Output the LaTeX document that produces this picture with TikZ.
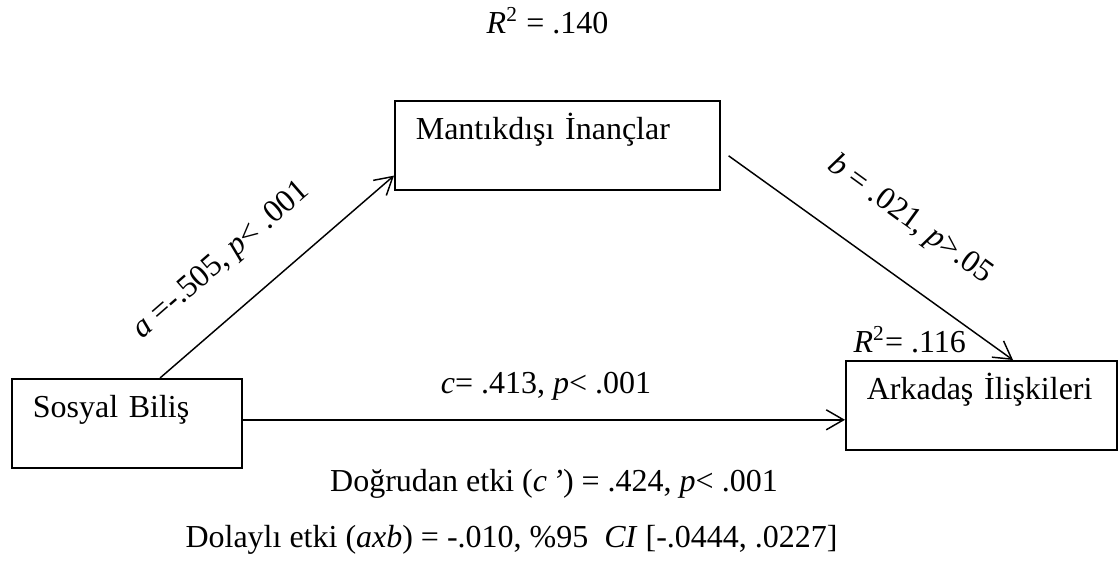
\documentclass[tikz,border=0pt]{standalone}
\usepackage{fontspec}
\setmainfont{Liberation Serif}
\usetikzlibrary{arrows.meta,calc}
\begin{document}
\begin{tikzpicture}[x=0.375pt,y=-0.375pt,
  font=\fontsize{12pt}{14pt}\selectfont,
  box/.style={draw, line width=0.6pt, inner xsep=0pt, inner ysep=0pt,
    anchor=north west, align=left, text height=14.44pt, text depth=18.94pt},
  arr/.style={line width=0.55pt, -{Straight Barb[length=6.5pt,width=7.5pt]}},
  lbl/.style={inner sep=0pt}]
\useasboundingbox (0,0) rectangle (1118,566);
% boxes
\node[box, text width=121.875pt] (mant) at (394,100) {\hspace*{7.875pt}Mantıkdışı İnançlar};
\node[box, text width=86.25pt] (sos) at (11,378) {\hspace*{7.875pt}Sosyal Biliş};
\node[box, text width=101.625pt] (ark) at (845,360) {\hspace*{7.875pt}Arkadaş İlişkileri};
% labels
\node[lbl, anchor=base] (r2top) at (547.5,33) {\textit{R}\textsuperscript{2} = .140};
\node[lbl, anchor=base west] (r2ark) at (853,352) {\textit{R}\textsuperscript{2}= .116};
\node[lbl, anchor=base] (clab) at (546,393) {\textit{c}= .413, \textit{p}< .001};
\node[lbl, rotate=41] (alab) at (222,261) {\textit{a} =-.505, \textit{p}< .001};
\node[lbl, rotate=-36] (blab) at (910,220) {\textit{b} = .021, \textit{p}>.05};
\node[lbl, anchor=base] (direct) at (554,491) {Doğrudan etki (\textit{c\,’}) = .424, \textit{p}< .001};
\node[lbl, anchor=base west] (indirect) at (185,547) {Dolaylı etki (\textit{axb}) = -.010, \%95\ \ \textit{CI} [-.0444, .0227]};
% connectors
\draw[arr] ($(sos.north west)+(149,0)$) -- ($(mant.south west)+(0,-15)$);
\coordinate (bstart) at ($(mant.east)+(8,10.5)$);
\draw[arr] (bstart) -- ($(ark.north west)+(168,0)$);
\draw[arr] ($(sos.east)+(0,-3.5)$) coordinate (c0) -- (c0 -| ark.west);
\end{tikzpicture}
\end{document}
